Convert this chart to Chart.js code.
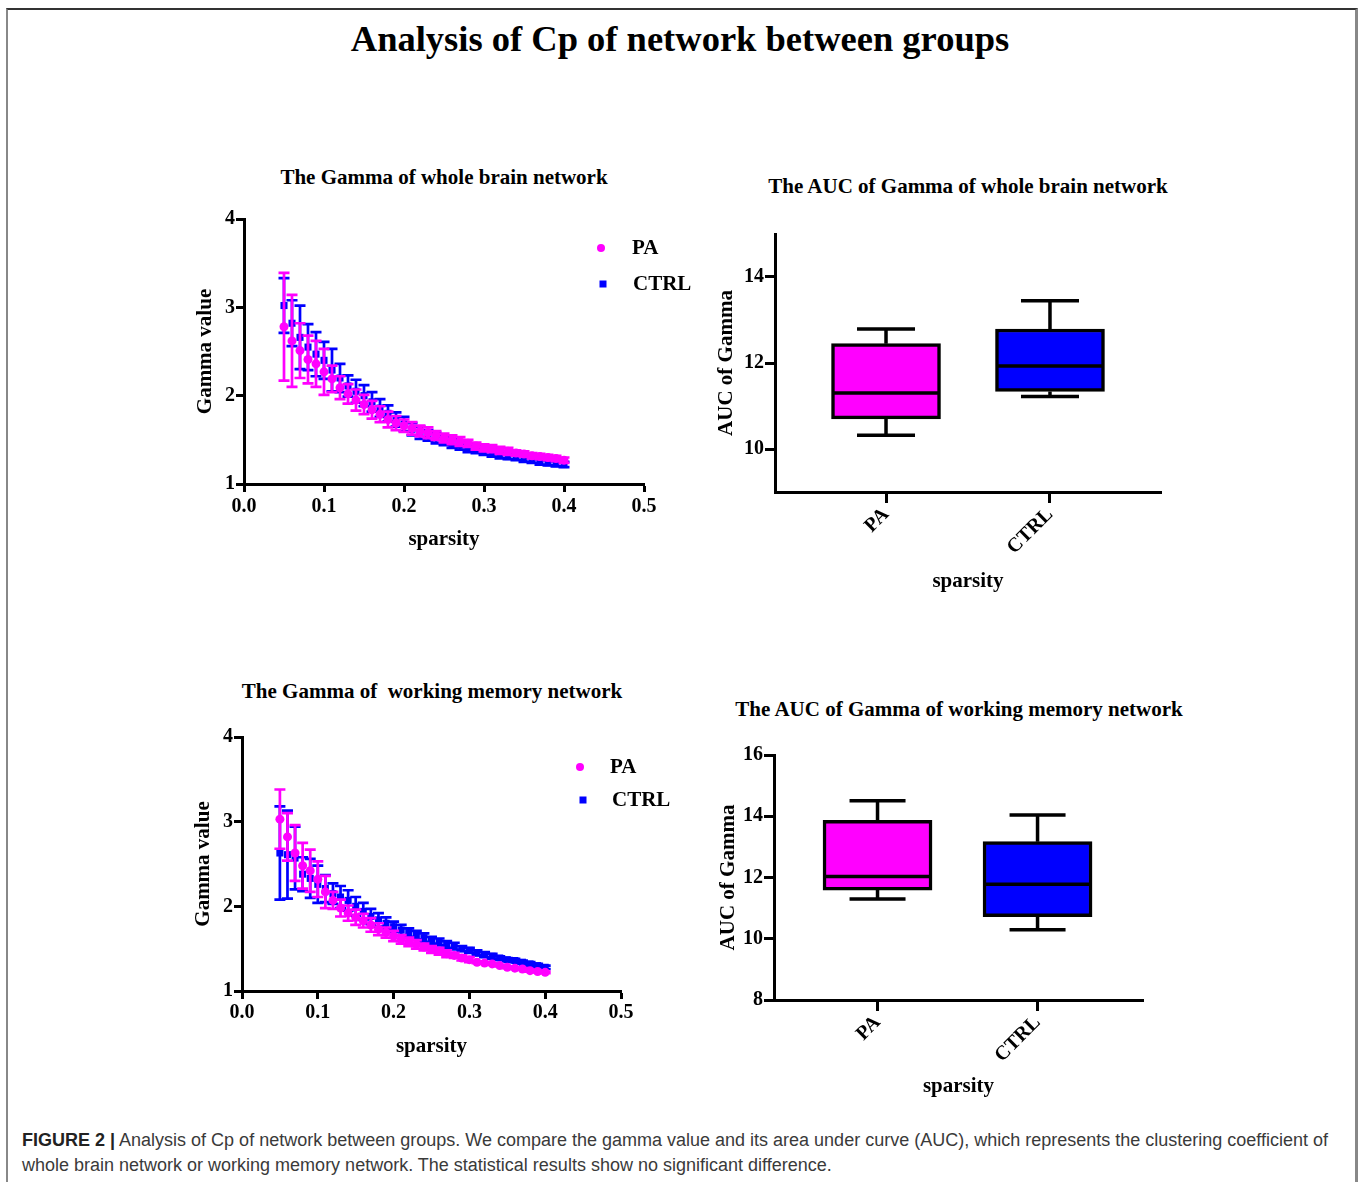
<!DOCTYPE html>
<html><head><meta charset="utf-8">
<script src="https://cdn.jsdelivr.net/npm/chart.js@4"></script>
<style>
html,body{margin:0;padding:0;background:#fff;}
body{width:1360px;height:1182px;position:relative;overflow:hidden;}
#frame{position:absolute;left:6px;top:8px;width:1347px;height:1200px;border-top:2px solid #333;border-left:2px solid #888;border-right:3px solid #888;}
.t{position:absolute;font-family:"Liberation Serif","Times New Roman",serif;font-weight:bold;color:#000;text-align:center;white-space:pre;line-height:1;}
canvas{position:absolute;}
#cap{position:absolute;left:22px;top:1128px;width:1330px;font-family:"Liberation Sans",Arial,sans-serif;font-size:18px;line-height:25px;color:#3a3a3a;white-space:nowrap;}
#cap b{color:#222;}
</style></head>
<body>
<div id="frame"></div>
<div class="t" style="left:180px;width:1000px;top:21px;font-size:36.5px;">Analysis of Cp of network between groups</div>
<div class="t" style="left:144px;width:600px;top:167px;font-size:21px;">The Gamma of whole brain network</div>
<div class="t" style="left:668px;width:600px;top:176px;font-size:21px;">The AUC of Gamma of whole brain network</div>
<div class="t" style="left:132px;width:600px;top:681px;font-size:21px;">The Gamma of  working memory network</div>
<div class="t" style="left:659px;width:600px;top:699px;font-size:21px;">The AUC of Gamma of working memory network</div>

<canvas id="c1" width="570" height="370" style="left:150px;top:200px;"></canvas>
<canvas id="c2" width="480" height="400" style="left:700px;top:220px;"></canvas>
<canvas id="c3" width="560" height="370" style="left:150px;top:715px;"></canvas>
<canvas id="c4" width="470" height="380" style="left:700px;top:740px;"></canvas>

<div id="cap"><b>FIGURE 2 |</b> Analysis of Cp of network between groups. We compare the gamma value and its area under curve (AUC), which represents the clustering coefficient of<br>whole brain network or working memory network. The statistical results show no significant difference.</div>

<script>
// ---------- data ----------
const sparsity = [0.05,0.06,0.07,0.08,0.09,0.10,0.11,0.12,0.13,0.14,0.15,0.16,0.17,0.18,0.19,0.20,0.21,0.22,0.23,0.24,0.25,0.26,0.27,0.28,0.29,0.30,0.31,0.32,0.33,0.34,0.35,0.36,0.37,0.38,0.39,0.40];
const sparsityTicks = [0, 0.1, 0.2, 0.3, 0.4, 0.5];
const sparsityTickLabels = ['0.0','0.1','0.2','0.3','0.4','0.5'];
const gammaTicks = [1, 2, 3, 4];

// whole brain network: mean gamma and error
const wbPA      = [2.78,2.62,2.51,2.41,2.36,2.27,2.19,2.09,2.02,1.95,1.90,1.84,1.79,1.73,1.69,1.66,1.63,1.60,1.58,1.55,1.52,1.50,1.48,1.46,1.43,1.41,1.40,1.38,1.37,1.35,1.34,1.32,1.31,1.30,1.29,1.27];
const wbPAErr   = [0.61,0.52,0.31,0.27,0.26,0.26,0.15,0.13,0.11,0.12,0.11,0.10,0.09,0.09,0.08,0.07,0.07,0.06,0.06,0.05,0.05,0.05,0.05,0.04,0.04,0.04,0.04,0.04,0.04,0.03,0.03,0.03,0.03,0.03,0.03,0.03];
const wbCTRL    = [3.02,2.82,2.66,2.55,2.47,2.40,2.29,2.20,2.11,2.05,2.00,1.93,1.86,1.80,1.73,1.68,1.62,1.58,1.55,1.52,1.49,1.46,1.44,1.41,1.39,1.37,1.35,1.33,1.31,1.30,1.28,1.27,1.25,1.24,1.23,1.22];
const wbCTRLErr = [0.31,0.26,0.36,0.26,0.25,0.21,0.24,0.16,0.12,0.13,0.12,0.11,0.10,0.09,0.08,0.08,0.07,0.07,0.06,0.06,0.05,0.05,0.05,0.05,0.04,0.04,0.04,0.04,0.03,0.03,0.03,0.03,0.03,0.03,0.03,0.03];

// working memory network: mean gamma and error
const wmPA      = [3.03,2.82,2.63,2.48,2.42,2.32,2.17,2.07,1.98,1.92,1.87,1.83,1.78,1.73,1.69,1.65,1.61,1.58,1.55,1.52,1.49,1.47,1.44,1.42,1.39,1.37,1.34,1.33,1.32,1.30,1.28,1.27,1.26,1.24,1.23,1.22];
const wmPAErr   = [0.35,0.28,0.33,0.27,0.25,0.21,0.19,0.10,0.10,0.09,0.09,0.08,0.08,0.07,0.06,0.06,0.05,0.05,0.05,0.04,0.04,0.04,0.04,0.03,0.03,0.03,0.01,0.01,0.01,0.01,0.01,0.01,0.01,0.01,0.01,0.01];
const wmCTRL    = [2.63,2.61,2.57,2.38,2.33,2.26,2.21,2.15,2.11,2.07,2.00,1.94,1.88,1.84,1.80,1.76,1.72,1.69,1.66,1.63,1.60,1.58,1.55,1.53,1.50,1.48,1.45,1.43,1.41,1.39,1.37,1.36,1.34,1.32,1.30,1.28];
const wmCTRLErr = [0.55,0.52,0.37,0.20,0.23,0.22,0.16,0.12,0.13,0.12,0.11,0.10,0.09,0.08,0.07,0.06,0.06,0.05,0.05,0.05,0.04,0.04,0.04,0.04,0.03,0.03,0.03,0.03,0.03,0.02,0.02,0.02,0.02,0.02,0.02,0.02];

// AUC box plots: [min, Q1, median, Q3, max]
const groups = ['PA', 'CTRL'];
const aucWbPA     = [10.32, 10.70, 11.30, 12.45, 12.79];
const aucWbCTRL   = [11.22, 11.34, 11.93, 12.79, 13.45];
const aucWmPA     = [11.30, 11.59, 12.03, 13.87, 14.51];
const aucWmCTRL   = [10.29, 10.72, 11.78, 13.17, 14.04];
const aucWbTicks = [10, 12, 14];
const aucWmTicks = [8, 10, 12, 14, 16];

// ---------- styles ----------
const PA_COLOR = '#ff00ff';
const CTRL_COLOR = '#0000ff';
const SERIF = '"Liberation Serif","Times New Roman",serif';
Chart.defaults.font.family = SERIF;
Chart.defaults.color = '#000';
const tickFont = {family: SERIF, size: 20, weight: 'bold'};
const titleFont = {family: SERIF, size: 21, weight: 'bold'};

const errorBars = {
  id: 'errorBars',
  beforeDatasetDraw(chart, args) {
    const ds = chart.data.datasets[args.index];
    if (!ds.errors) return;
    const xs = chart.scales.x, ys = chart.scales.y, ctx = chart.ctx;
    const cap = 5.5;
    ctx.save();
    ctx.strokeStyle = ds.backgroundColor;
    ctx.lineWidth = 2.7;
    ds.data.forEach((p, i) => {
      const e = ds.errors[i];
      if (!e) return;
      const x = xs.getPixelForValue(p.x);
      const yt = ys.getPixelForValue(p.y + e);
      const yb = ys.getPixelForValue(p.y - e);
      ctx.beginPath();
      ctx.moveTo(x, yt); ctx.lineTo(x, yb);
      ctx.moveTo(x - cap, yt); ctx.lineTo(x + cap, yt);
      ctx.moveTo(x - cap, yb); ctx.lineTo(x + cap, yb);
      ctx.stroke();
    });
    ctx.restore();
  }
};

const inlineLegend = {
  id: 'inlineLegend',
  afterDraw(chart, args, o) {
    if (!o || !o.items) return;
    const {ctx, chartArea: a} = chart;
    chart.data.datasets.forEach((ds, i) => {
      const it = o.items[i];
      const x = a.left + it.mx, y = a.top + it.y;
      ctx.save();
      ctx.fillStyle = ds.backgroundColor;
      if (ds.pointStyle === 'rect') {
        ctx.fillRect(x - 3.5, y - 3.5, 7, 7);
      } else {
        ctx.beginPath(); ctx.arc(x, y, 4, 0, Math.PI * 2); ctx.fill();
      }
      ctx.fillStyle = '#000';
      ctx.font = 'bold 21px ' + SERIF;
      ctx.textBaseline = 'middle';
      ctx.fillText(ds.label, a.left + it.tx, y + 1);
      ctx.restore();
    });
  }
};

const boxWhiskers = {
  id: 'boxWhiskers',
  afterDatasetsDraw(chart, args, o) {
    const {ctx, scales: {x, y}} = chart;
    const ds = chart.data.datasets[0];
    if (!ds.stats) return;
    ctx.save();
    ctx.strokeStyle = '#000';
    ctx.lineWidth = 3.5;
    ds.stats.forEach((s, i) => {
      const cx = x.getPixelForValue(i);
      const half = o.boxW / 2 - 2, cap = o.capW / 2;
      const [mn, q1, md, q3, mx] = s.map(v => y.getPixelForValue(v));
      ctx.beginPath();
      ctx.moveTo(cx, q3); ctx.lineTo(cx, mx);
      ctx.moveTo(cx - cap, mx); ctx.lineTo(cx + cap, mx);
      ctx.moveTo(cx, q1); ctx.lineTo(cx, mn);
      ctx.moveTo(cx - cap, mn); ctx.lineTo(cx + cap, mn);
      ctx.moveTo(cx - half, md); ctx.lineTo(cx + half, md);
      ctx.stroke();
    });
    ctx.restore();
  }
};

function axisCommon(tickLen) {
  return {
    grid: {display: true, offset: false, drawOnChartArea: false, drawTicks: true, tickLength: tickLen, tickWidth: 3, tickColor: '#000'},
    border: {display: true, width: 3, color: '#000'}
  };
}

function scatterChart(id, pa, paErr, ctrl, ctrlErr, L) {
  return new Chart(document.getElementById(id), {
    type: 'scatter',
    data: {datasets: [
      {label: 'PA', data: sparsity.map((s, i) => ({x: s, y: pa[i]})), errors: paErr,
       pointStyle: 'circle', pointRadius: 4.5, pointBorderWidth: 0, backgroundColor: PA_COLOR, borderColor: PA_COLOR},
      {label: 'CTRL', data: sparsity.map((s, i) => ({x: s, y: ctrl[i]})), errors: ctrlErr,
       pointStyle: 'rect', pointRadius: 5, pointBorderWidth: 0, backgroundColor: CTRL_COLOR, borderColor: CTRL_COLOR}
    ]},
    options: {
      responsive: false, animation: false, devicePixelRatio: 1,
      layout: {padding: L.pad},
      plugins: {legend: {display: false}, tooltip: {enabled: false}, inlineLegend: {items: L.legend}},
      scales: {
        x: Object.assign(axisCommon(8), {
          type: 'linear', min: 0, max: 0.5,
          afterBuildTicks: s => { s.ticks = sparsityTicks.map(v => ({value: v})); },
          afterFit: s => { s.height = L.xh; },
          ticks: {font: tickFont, color: '#000', padding: L.xtp, maxRotation: 0, callback: (v, i) => sparsityTickLabels[i]},
          title: {display: true, text: 'sparsity', font: titleFont, color: '#000', padding: {top: 0, bottom: L.xtitle}}
        }),
        y: Object.assign(axisCommon(8), {
          type: 'linear', min: 1, max: 4,
          afterBuildTicks: s => { s.ticks = gammaTicks.map(v => ({value: v})); },
          afterFit: s => { s.width = L.yw; },
          ticks: {font: tickFont, color: '#000', padding: 1, callback: v => String(v)},
          title: {display: true, text: 'Gamma value', font: titleFont, color: '#000', padding: {top: L.ytitle, bottom: 0}}
        })
      }
    },
    plugins: [errorBars, inlineLegend]
  });
}

function boxChart(id, paStats, ctrlStats, yTicks, L) {
  const stats = [paStats, ctrlStats];
  return new Chart(document.getElementById(id), {
    type: 'bar',
    data: {datasets: [{
      data: stats.map((s, i) => ({x: i, y: [s[1], s[3]]})),
      stats: stats,
      backgroundColor: [PA_COLOR, CTRL_COLOR],
      borderColor: '#000', borderWidth: 3.5, borderSkipped: false,
      barThickness: L.boxW
    }]},
    options: {
      responsive: false, animation: false, devicePixelRatio: 1,
      layout: {padding: L.pad},
      plugins: {legend: {display: false}, tooltip: {enabled: false}, boxWhiskers: {boxW: L.boxW, capW: L.capW}},
      scales: {
        x: Object.assign(axisCommon(11), {
          type: 'linear', min: L.xmin, max: L.xmax, offset: false,
          afterBuildTicks: s => { s.ticks = groups.map((g, i) => ({value: i})); },
          afterFit: s => { s.height = L.xh; },
          ticks: {font: tickFont, color: '#000', padding: 0, minRotation: 45, maxRotation: 45, autoSkip: false, callback: (v, i) => groups[i]},
          title: {display: true, text: 'sparsity', font: titleFont, color: '#000', padding: {top: 0, bottom: L.xtitle}}
        }),
        y: Object.assign(axisCommon(10), {
          type: 'linear', min: L.ymin, max: L.ymax,
          afterBuildTicks: s => { s.ticks = yTicks.map(v => ({value: v})); },
          afterFit: s => { s.width = L.yw; },
          ticks: {font: tickFont, color: '#000', padding: 1, callback: v => String(v)},
          title: {display: true, text: 'AUC of Gamma', font: titleFont, color: '#000', padding: {top: L.ytitle, bottom: 0}}
        })
      }
    },
    plugins: [boxWhiskers]
  });
}

scatterChart('c1', wbPA, wbPAErr, wbCTRL, wbCTRLErr, {
  pad: {left: 0, right: 76, top: 19, bottom: 0}, xh: 86, yw: 94, xtp: 3, xtitle: 18, ytitle: 43,
  legend: [{mx: 357, tx: 388, y: 29}, {mx: 359, tx: 389, y: 65}]
});
boxChart('c2', aucWbPA, aucWbCTRL, aucWbTicks, {
  pad: {left: 0, right: 19, top: 14, bottom: 0}, xh: 128, yw: 75, xtitle: 26, ytitle: 14,
  xmin: -0.677, xmax: 1.677, ymin: 9, ymax: 15, boxW: 109, capW: 58
});
scatterChart('c3', wmPA, wmPAErr, wmCTRL, wmCTRLErr, {
  pad: {left: 0, right: 89, top: 22, bottom: 0}, xh: 94, yw: 92, xtp: 2, xtitle: 26, ytitle: 41,
  legend: [{mx: 338, tx: 368, y: 30}, {mx: 341, tx: 370, y: 63}]
});
boxChart('c4', aucWmPA, aucWmCTRL, aucWmTicks, {
  pad: {left: 0, right: 27, top: 15, bottom: 0}, xh: 120, yw: 74, xtitle: 21, ytitle: 16,
  xmin: -0.647, xmax: 1.659, ymin: 8, ymax: 16, boxW: 109, capW: 56
});
</script>
</body></html>
